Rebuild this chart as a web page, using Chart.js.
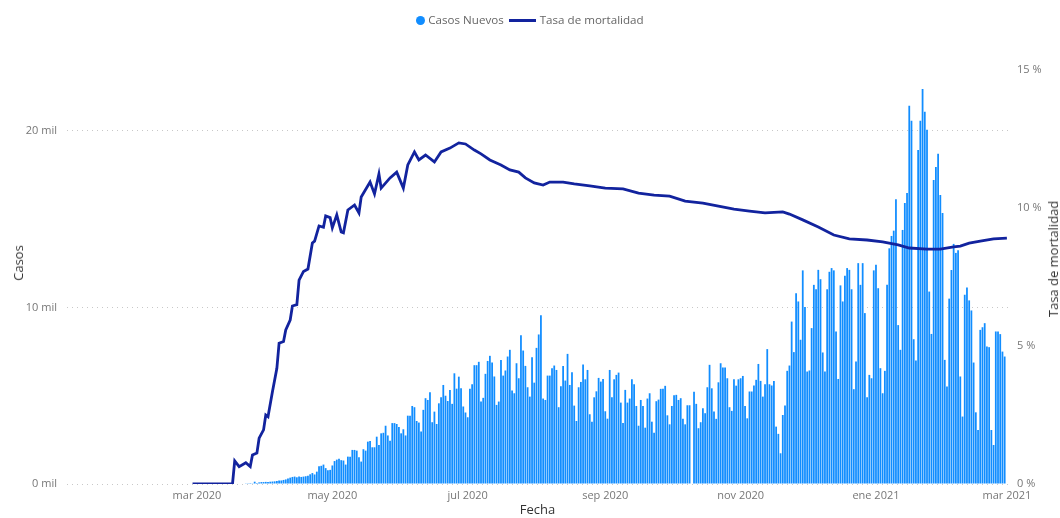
<!DOCTYPE html>
<html>
<head>
<meta charset="utf-8">
<script src="https://cdn.jsdelivr.net/npm/chart.js@4.4.3/dist/chart.umd.min.js"></script>
<style>
  html, body { margin: 0; padding: 0; background: #fff; }
  #wrap { position: relative; width: 1060px; height: 518px; font-family: "Open Sans", sans-serif; }
  #legend {
    position: absolute; top: 12px; left: 0; width: 1060px;
    display: flex; justify-content: center; align-items: center;
    font-size: 11.6px; color: #666; line-height: 16px;
  }
  #legend .dot { width: 9px; height: 9px; border-radius: 50%; background: #118DFF; margin-right: 3px; }
  #legend .bar { width: 27px; height: 3px; background: #12239E; margin: 0 4px 0 5px; }
  .vtitle {
    position: absolute;
    transform: translate(-50%, -50%) rotate(-90deg);
    white-space: nowrap; font-size: 13px; color: #333;
  }
</style>
</head>
<body>
<div id="wrap">
  <canvas id="chart" width="1060" height="518"></canvas>
  <div id="legend"><span class="dot"></span><span>Casos Nuevos</span><span class="bar"></span><span>Tasa de mortalidad</span></div>
  <div class="vtitle" style="left:18px; top:263px;">Casos</div>
  <div class="vtitle" style="left:1053px; top:259px;">Tasa de mortalidad</div>
</div>
<script>
// -----------------------------
// Casos nuevos y tasa de mortalidad
// -----------------------------

const meses = ["ene", "feb", "mar", "abr", "may", "jun", "jul", "ago", "sep", "oct", "nov", "dic"];
const marcasFecha = ["2020-03-01", "2020-05-01", "2020-07-01", "2020-09-01", "2020-11-01", "2021-01-01", "2021-03-01"];
const marcasCasos = [0, 10000, 20000];
const marcasTasa = [0, 5, 10, 15];

// casos diarios desde esta fecha, uno por día
const inicioCasos = "2020-03-22";
const casosNuevos = [
    30, 40, 20, 50, 40, 130, 60, 90, 110, 110, 120, 110,
    130, 140, 150, 170, 200, 200, 230, 260, 310, 360,
    400, 420, 380, 430, 400, 420, 440, 470, 550, 620,
    540, 700, 1000, 1030, 1100, 900, 780, 800, 1050, 1300,
    1380, 1430, 1350, 1330, 1100, 1550, 1550, 1930, 1930, 1890,
    1510, 1270, 1970, 1890, 2400, 2440, 2080, 2080, 2680, 2210,
    2870, 2900, 3300, 2750, 2450, 3450, 3450, 3400, 3230, 2870,
    3100, 2750, 3870, 3870, 4420, 4350, 3570, 3480, 2970, 4200,
    4860, 4760, 5200, 3500, 4100, 3400, 4570, 4910, 5610, 5000,
    4700, 5330, 4540, 6270, 5400, 6080, 5420, 4390, 4050, 3780,
    5400, 5650, 6730, 6730, 6920, 4670, 4880, 6240, 6970, 7260,
    6880, 6090, 4480, 4670, 7030, 6140, 6430, 7220, 7600, 5290,
    5140, 6840, 5990, 8430, 7560, 6690, 5480, 4950, 7180, 5740,
    7710, 8470, 9560, 4840, 4760, 6140, 6140, 6560, 6710, 6460,
    4350, 5540, 6690, 5860, 7370, 5610, 6330, 4440, 3570, 5480,
    5780, 6770, 5930, 6460, 3950, 3520, 4910, 5250, 6010, 5800,
    5950, 4120, 3700, 6460, 4910, 5930, 6180, 6310, 4610, 3460,
    5330, 4610, 4840, 5930, 5650, 4420, 3300, 4760, 4420, 3190,
    4840, 5140, 3530, 2910, 4690, 4780, 5390, 5390, 5560, 3890,
    3380, 4420, 5030, 5050, 4760, 4860, 3700, 3380, 4460, 4460,
    0, 5230, 4540, 3160, 3500, 4290, 4010, 5480, 6750, 5420,
    4100, 3690, 5760, 6840, 6600, 6600, 5990, 4350, 4140, 5930,
    5570, 5930, 5990, 6120, 4420, 3720, 5240, 5240, 5580, 5900,
    6800, 5840, 4950, 5650, 7640, 5650, 5580, 5840, 3250, 2840,
    1740, 3910, 4440, 6410, 6710, 9200, 7470, 10810, 10340, 8170,
    12100, 10020, 6370, 6430, 8830, 11280, 11030, 12130, 11600, 7450,
    6370, 11030, 12020, 12230, 12100, 8640, 5950, 11250, 10340, 11790,
    12230, 12130, 11030, 5370, 6940, 12510, 11280, 12510, 9680, 4910,
    6180, 5990, 12100, 12420, 11090, 6560, 5140, 6410, 11280, 13350,
    14050, 14350, 16130, 9000, 7600, 14390, 15920, 16480, 21420, 20570,
    8200, 7000, 18920, 20580, 22380, 21080, 20060, 10900, 8500, 17220,
    17960, 18700, 16370, 15350, 7030, 5520, 10500, 12120, 13600, 13090,
    13240, 6090, 3820, 10720, 11130, 10400, 9830, 6880, 4060, 3060,
    8730, 8880, 9110, 7790, 7750, 3060, 2210, 8640, 8640, 8490, 7500, 7220
];

const tasaFechas = [
    "2020-02-28", "2020-03-17", "2020-03-18", "2020-03-20", "2020-03-23", "2020-03-25", "2020-03-26",
    "2020-03-28", "2020-03-29", "2020-03-31", "2020-04-01", "2020-04-02", "2020-04-04", "2020-04-06",
    "2020-04-07", "2020-04-09", "2020-04-10", "2020-04-12", "2020-04-13", "2020-04-15", "2020-04-16",
    "2020-04-18", "2020-04-20", "2020-04-22", "2020-04-23", "2020-04-25", "2020-04-27", "2020-04-28",
    "2020-04-30", "2020-05-01", "2020-05-03", "2020-05-05", "2020-05-06", "2020-05-08", "2020-05-11",
    "2020-05-13", "2020-05-14", "2020-05-18", "2020-05-20", "2020-05-22", "2020-05-23", "2020-05-27",
    "2020-05-30", "2020-06-02", "2020-06-04", "2020-06-07", "2020-06-09", "2020-06-12", "2020-06-16",
    "2020-06-19", "2020-06-23", "2020-06-27", "2020-06-30", "2020-07-04", "2020-07-07", "2020-07-11",
    "2020-07-16", "2020-07-20", "2020-07-24", "2020-07-27", "2020-07-31", "2020-08-04", "2020-08-07",
    "2020-08-13", "2020-08-18", "2020-08-25", "2020-09-01", "2020-09-09", "2020-09-16", "2020-09-23",
    "2020-09-30", "2020-10-07", "2020-10-15", "2020-10-22", "2020-10-29", "2020-11-05", "2020-11-12",
    "2020-11-20", "2020-11-23", "2020-11-29", "2020-12-06", "2020-12-13", "2020-12-20", "2020-12-28",
    "2021-01-04", "2021-01-11", "2021-01-16", "2021-01-24", "2021-01-30", "2021-02-05", "2021-02-08",
    "2021-02-12", "2021-02-17", "2021-02-23", "2021-03-01"
];
const tasaValores = [
    0, 0, 0.84, 0.63, 0.77, 0.63, 1.05,
    1.12, 1.66, 1.96, 2.5, 2.44, 3.34, 4.19,
    5.1, 5.16, 5.58, 5.94, 6.45, 6.5, 7.39,
    7.7, 7.79, 8.73, 8.8, 9.35, 9.3, 9.71,
    9.65, 9.28, 9.75, 9.13, 9.1, 9.93, 10.11,
    9.82, 10.4, 10.94, 10.51, 11.23, 10.72, 11.09,
    11.3, 10.72, 11.56, 12.03, 11.74, 11.92, 11.67,
    12.03, 12.17, 12.36, 12.32, 12.1, 11.96, 11.74,
    11.56, 11.38, 11.3, 11.09, 10.91, 10.83, 10.94,
    10.94, 10.87, 10.8, 10.72, 10.69, 10.54, 10.47,
    10.43, 10.25, 10.18, 10.07, 9.96, 9.89, 9.82,
    9.86, 9.78, 9.57, 9.31, 9.02, 8.88, 8.84,
    8.77, 8.66, 8.55, 8.51, 8.51, 8.59, 8.62,
    8.73, 8.8, 8.88, 8.91
];

const DIA = 24 * 60 * 60 * 1000;
const COLOR_CASOS = "#118DFF";
const COLOR_TASA = "#12239E";

const casosData = casosNuevos.map((v, i) => ({ x: Date.parse(inicioCasos) + i * DIA, y: v }));
const tasaData = tasaFechas.map((f, i) => ({ x: Date.parse(f), y: tasaValores[i] }));

Chart.defaults.font.family = '"Open Sans", sans-serif';
Chart.defaults.color = "#777";

new Chart(document.getElementById("chart"), {
    type: "bar",
    data: {
        datasets: [
            {
                type: "line",
                label: "Tasa de mortalidad",
                data: tasaData,
                yAxisID: "y1",
                borderColor: COLOR_TASA,
                borderWidth: 2.8,
                pointRadius: 0,
                tension: 0,
                order: 0
            },
            {
                label: "Casos Nuevos",
                data: casosData,
                yAxisID: "y",
                backgroundColor: COLOR_CASOS,
                barPercentage: 0.8,
                categoryPercentage: 1,
                order: 1
            }
        ]
    },
    options: {
        responsive: false,
        animation: false,
        layout: { padding: { top: 70, left: 0, right: 0, bottom: 0 } },
        plugins: {
            legend: { display: false },
            tooltip: { enabled: false }
        },
        scales: {
            x: {
                type: "linear",
                offset: false,
                min: Date.parse("2020-01-02T10:00:00Z"),
                max: Date.parse("2021-03-01T12:00:00Z"),
                grid: { display: false, drawTicks: false },
                border: { display: false },
                afterFit: axis => { axis.height = 34; },
                afterBuildTicks: axis => {
                    axis.ticks = marcasFecha.map(f => ({ value: Date.parse(f) }));
                },
                ticks: {
                    padding: 5,
                    maxRotation: 0,
                    autoSkip: false,
                    font: { size: 11 },
                    callback: value => {
                        const d = new Date(value);
                        return meses[d.getUTCMonth()] + " " + d.getUTCFullYear();
                    }
                },
                title: {
                    display: true,
                    text: "Fecha",
                    color: "#333",
                    font: { size: 13 },
                    padding: { top: -2, bottom: 0 }
                }
            },
            y: {
                position: "left",
                min: 0,
                max: 23450,
                grid: { color: "#c8c8c8", drawTicks: false },
                border: { display: false, dash: [1, 4] },
                afterFit: axis => { axis.width = 67; },
                afterBuildTicks: axis => {
                    axis.ticks = marcasCasos.map(v => ({ value: v }));
                },
                ticks: {
                    padding: 10,
                    font: { size: 11 },
                    callback: value => (value / 1000) + " mil"
                }
            },
            y1: {
                position: "right",
                min: 0,
                max: 15,
                grid: { display: false, drawTicks: false },
                border: { display: false },
                afterFit: axis => { axis.width = 52; },
                afterBuildTicks: axis => {
                    axis.ticks = marcasTasa.map(v => ({ value: v }));
                },
                ticks: {
                    padding: 9,
                    font: { size: 11 },
                    callback: value => value + " %"
                }
            }
        }
    }
});
</script>
</body>
</html>
